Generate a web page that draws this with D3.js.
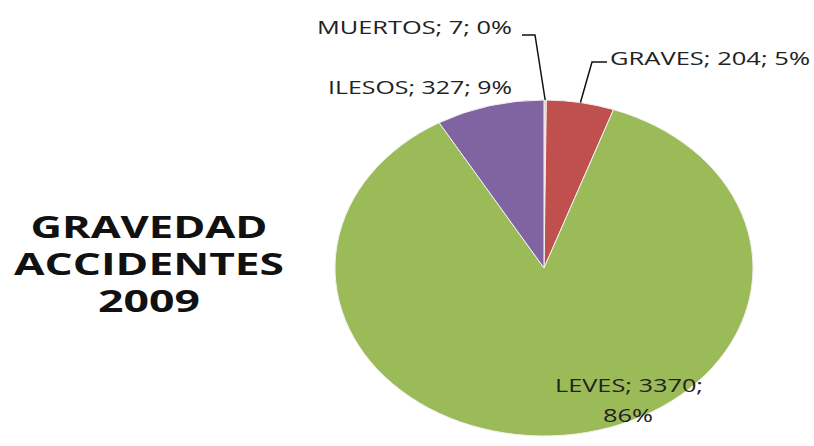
<!DOCTYPE html>
<html>
<head>
<meta charset="utf-8">
<script src="https://cdn.jsdelivr.net/npm/d3@7"></script>
<style>
  body { margin: 0; background: #fff; }
  svg { display: block; }
  text { font-family: "Open Sans", sans-serif; fill: #222; }
</style>
</head>
<body>
<svg id="chart" width="814" height="446"></svg>
<script>
var categories = ["MUERTOS", "GRAVES", "LEVES", "ILESOS"];
var values = [7, 204, 3370, 327];
var percents = ["0%", "5%", "86%", "9%"];
var colors = ["#e3b3c3", "#c0504d", "#9bbb59", "#8064a2"];
var titleLines = ["GRAVEDAD", "ACCIDENTES", "2009"];

var svg = d3.select('#chart');

// pie is drawn as an ellipse (the original image is stretched)
var cx = 544, cy = 268, rx = 209, ry = 168;

var data = categories.map(function(c, i) {
  return { name: c, value: values[i], pct: percents[i], color: colors[i] };
});

var pie = d3.pie().sort(null).value(function(d) { return d.value; });
var arc = d3.arc().innerRadius(0).outerRadius(ry);
var arcs = pie(data);

var g = svg.append('g')
  .attr('transform', 'translate(' + cx + ',' + cy + ') scale(' + (rx / ry) + ',1)');

g.selectAll('path')
  .data(arcs)
  .enter().append('path')
  .attr('d', arc)
  .attr('fill', function(d) { return d.data.color; })
  .attr('stroke', '#f2f2f2')
  .attr('stroke-width', 1)
  .attr('vector-effect', 'non-scaling-stroke');

// point on the rim of the ellipse for a slice
function rimPoint(d) {
  var a = (d.startAngle + d.endAngle) / 2;
  return [cx + rx * Math.sin(a), cy - ry * Math.cos(a)];
}

// label placement (x, baseline y, stretched width)
var labelPos = {
  MUERTOS: { x: 317, y: 34, w: 195, leader: [[522, 35], [535, 35]] },
  GRAVES: { x: 610, y: 65, w: 200, leader: [[607, 62], [592, 62]] },
  ILESOS: { x: 328, y: 94, w: 184 },
  LEVES: { x: 555, y: 392, w: 148 }
};

arcs.forEach(function(d) {
  var p = labelPos[d.data.name];
  if (d.data.name === 'LEVES') {
    svg.append('text')
      .attr('x', p.x).attr('y', p.y)
      .attr('font-size', 18)
      .attr('textLength', p.w).attr('lengthAdjust', 'spacingAndGlyphs')
      .text(d.data.name + '; ' + d.data.value + ';');
    svg.append('text')
      .attr('x', 603).attr('y', p.y + 30)
      .attr('font-size', 18)
      .attr('textLength', 50).attr('lengthAdjust', 'spacingAndGlyphs')
      .text(d.data.pct);
    return;
  }
  svg.append('text')
    .attr('x', p.x).attr('y', p.y)
    .attr('font-size', 18)
    .attr('textLength', p.w).attr('lengthAdjust', 'spacingAndGlyphs')
    .text(d.data.name + '; ' + d.data.value + '; ' + d.data.pct);
  if (p.leader) {
    var pts = p.leader.concat([rimPoint(d)]);
    svg.append('path')
      .attr('d', d3.line()(pts))
      .attr('fill', 'none')
      .attr('stroke', '#111')
      .attr('stroke-width', 1.5);
  }
});

// title on the left
var titleWidths = [237, 270, 102];
titleLines.forEach(function(t, i) {
  svg.append('text')
    .attr('x', 149)
    .attr('y', 238 + i * 37)
    .attr('text-anchor', 'middle')
    .attr('font-size', 30)
    .attr('font-weight', 'bold')
    .attr('textLength', titleWidths[i]).attr('lengthAdjust', 'spacingAndGlyphs')
    .style('fill', '#111')
    .text(t);
});
</script>
</body>
</html>
